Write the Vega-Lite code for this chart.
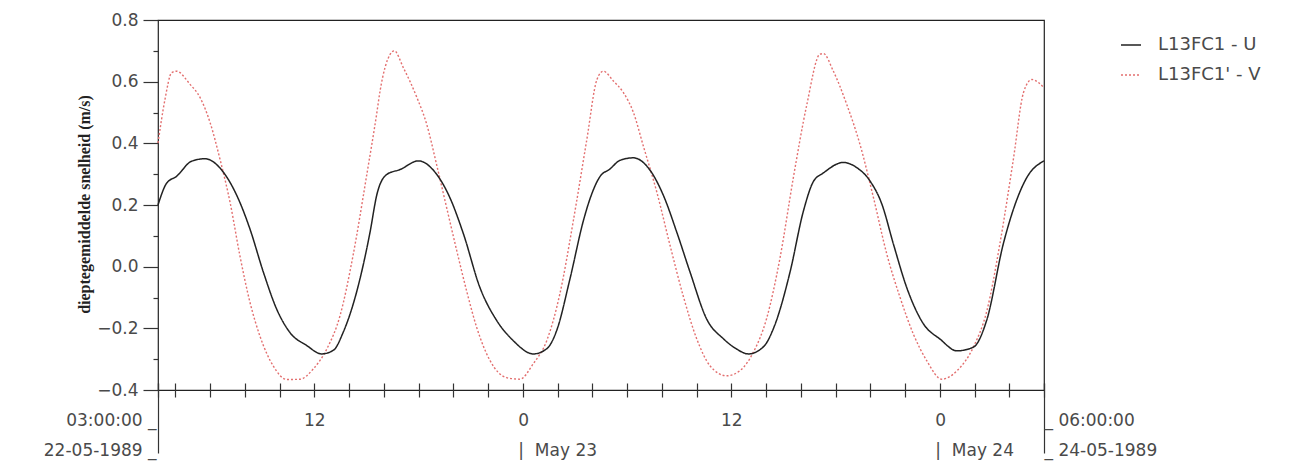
{
  "$schema": "https://vega.github.io/schema/vega-lite/v6.json",
  "width": 886,
  "height": 370,
  "autosize": "none",
  "padding": {"left": 158, "top": 20, "right": 262, "bottom": 84},
  "background": "white",
  "config": {
    "view": {"stroke": "#222", "strokeWidth": 1.2},
    "axis": {"labelFont": "DejaVu Sans", "labelFontSize": 17, "labelColor": "#4a4a4a", "tickColor": "#333", "tickWidth": 1.2, "grid": false, "domain": false}
  },
  "data": {"values": [
    {"time": "1989-05-22T03:00:00Z", "series": "L13FC1 - U", "value": 0.200},
    {"time": "1989-05-22T03:30:00Z", "series": "L13FC1 - U", "value": 0.271},
    {"time": "1989-05-22T04:04:00Z", "series": "L13FC1 - U", "value": 0.293},
    {"time": "1989-05-22T04:56:00Z", "series": "L13FC1 - U", "value": 0.342},
    {"time": "1989-05-22T05:42:00Z", "series": "L13FC1 - U", "value": 0.350},
    {"time": "1989-05-22T06:46:00Z", "series": "L13FC1 - U", "value": 0.306},
    {"time": "1989-05-22T07:43:00Z", "series": "L13FC1 - U", "value": 0.208},
    {"time": "1989-05-22T08:18:00Z", "series": "L13FC1 - U", "value": 0.121},
    {"time": "1989-05-22T09:04:00Z", "series": "L13FC1 - U", "value": -0.018},
    {"time": "1989-05-22T09:50:00Z", "series": "L13FC1 - U", "value": -0.138},
    {"time": "1989-05-22T10:36:00Z", "series": "L13FC1 - U", "value": -0.214},
    {"time": "1989-05-22T11:34:00Z", "series": "L13FC1 - U", "value": -0.256},
    {"time": "1989-05-22T12:25:00Z", "series": "L13FC1 - U", "value": -0.283},
    {"time": "1989-05-22T13:06:00Z", "series": "L13FC1 - U", "value": -0.271},
    {"time": "1989-05-22T13:40:00Z", "series": "L13FC1 - U", "value": -0.212},
    {"time": "1989-05-22T14:26:00Z", "series": "L13FC1 - U", "value": -0.082},
    {"time": "1989-05-22T15:12:00Z", "series": "L13FC1 - U", "value": 0.110},
    {"time": "1989-05-22T15:36:00Z", "series": "L13FC1 - U", "value": 0.234},
    {"time": "1989-05-22T16:10:00Z", "series": "L13FC1 - U", "value": 0.299},
    {"time": "1989-05-22T16:56:00Z", "series": "L13FC1 - U", "value": 0.315},
    {"time": "1989-05-22T17:59:00Z", "series": "L13FC1 - U", "value": 0.343},
    {"time": "1989-05-22T19:02:00Z", "series": "L13FC1 - U", "value": 0.300},
    {"time": "1989-05-22T19:48:00Z", "series": "L13FC1 - U", "value": 0.224},
    {"time": "1989-05-22T20:35:00Z", "series": "L13FC1 - U", "value": 0.106},
    {"time": "1989-05-22T21:32:00Z", "series": "L13FC1 - U", "value": -0.068},
    {"time": "1989-05-22T22:30:00Z", "series": "L13FC1 - U", "value": -0.175},
    {"time": "1989-05-22T23:27:00Z", "series": "L13FC1 - U", "value": -0.240},
    {"time": "1989-05-23T00:36:00Z", "series": "L13FC1 - U", "value": -0.283},
    {"time": "1989-05-23T01:23:00Z", "series": "L13FC1 - U", "value": -0.266},
    {"time": "1989-05-23T01:57:00Z", "series": "L13FC1 - U", "value": -0.207},
    {"time": "1989-05-23T02:42:00Z", "series": "L13FC1 - U", "value": -0.043},
    {"time": "1989-05-23T03:30:00Z", "series": "L13FC1 - U", "value": 0.152},
    {"time": "1989-05-23T03:52:00Z", "series": "L13FC1 - U", "value": 0.220},
    {"time": "1989-05-23T04:27:00Z", "series": "L13FC1 - U", "value": 0.293},
    {"time": "1989-05-23T05:00:00Z", "series": "L13FC1 - U", "value": 0.316},
    {"time": "1989-05-23T05:36:00Z", "series": "L13FC1 - U", "value": 0.345},
    {"time": "1989-05-23T06:22:00Z", "series": "L13FC1 - U", "value": 0.353},
    {"time": "1989-05-23T07:12:00Z", "series": "L13FC1 - U", "value": 0.322},
    {"time": "1989-05-23T08:06:00Z", "series": "L13FC1 - U", "value": 0.230},
    {"time": "1989-05-23T08:52:00Z", "series": "L13FC1 - U", "value": 0.111},
    {"time": "1989-05-23T09:38:00Z", "series": "L13FC1 - U", "value": -0.019},
    {"time": "1989-05-23T10:35:00Z", "series": "L13FC1 - U", "value": -0.170},
    {"time": "1989-05-23T11:33:00Z", "series": "L13FC1 - U", "value": -0.234},
    {"time": "1989-05-23T12:18:00Z", "series": "L13FC1 - U", "value": -0.267},
    {"time": "1989-05-23T12:59:00Z", "series": "L13FC1 - U", "value": -0.283},
    {"time": "1989-05-23T13:51:00Z", "series": "L13FC1 - U", "value": -0.260},
    {"time": "1989-05-23T14:30:00Z", "series": "L13FC1 - U", "value": -0.190},
    {"time": "1989-05-23T15:23:00Z", "series": "L13FC1 - U", "value": -0.017},
    {"time": "1989-05-23T16:09:00Z", "series": "L13FC1 - U", "value": 0.180},
    {"time": "1989-05-23T16:44:00Z", "series": "L13FC1 - U", "value": 0.277},
    {"time": "1989-05-23T17:18:00Z", "series": "L13FC1 - U", "value": 0.304},
    {"time": "1989-05-23T18:27:00Z", "series": "L13FC1 - U", "value": 0.338},
    {"time": "1989-05-23T19:12:00Z", "series": "L13FC1 - U", "value": 0.322},
    {"time": "1989-05-23T19:59:00Z", "series": "L13FC1 - U", "value": 0.278},
    {"time": "1989-05-23T20:40:00Z", "series": "L13FC1 - U", "value": 0.203},
    {"time": "1989-05-23T21:20:00Z", "series": "L13FC1 - U", "value": 0.073},
    {"time": "1989-05-23T22:06:00Z", "series": "L13FC1 - U", "value": -0.068},
    {"time": "1989-05-23T23:04:00Z", "series": "L13FC1 - U", "value": -0.186},
    {"time": "1989-05-24T00:01:00Z", "series": "L13FC1 - U", "value": -0.235},
    {"time": "1989-05-24T00:59:00Z", "series": "L13FC1 - U", "value": -0.273},
    {"time": "1989-05-24T01:56:00Z", "series": "L13FC1 - U", "value": -0.261},
    {"time": "1989-05-24T02:42:00Z", "series": "L13FC1 - U", "value": -0.174},
    {"time": "1989-05-24T03:40:00Z", "series": "L13FC1 - U", "value": 0.076},
    {"time": "1989-05-24T04:26:00Z", "series": "L13FC1 - U", "value": 0.217},
    {"time": "1989-05-24T05:00:00Z", "series": "L13FC1 - U", "value": 0.288},
    {"time": "1989-05-24T06:00:00Z", "series": "L13FC1 - U", "value": 0.343},

    {"time": "1989-05-22T03:00:00Z", "series": "L13FC1' - V", "value": 0.401},
    {"time": "1989-05-22T03:24:00Z", "series": "L13FC1' - V", "value": 0.542},
    {"time": "1989-05-22T03:47:00Z", "series": "L13FC1' - V", "value": 0.629},
    {"time": "1989-05-22T04:04:00Z", "series": "L13FC1' - V", "value": 0.634},
    {"time": "1989-05-22T04:50:00Z", "series": "L13FC1' - V", "value": 0.592},
    {"time": "1989-05-22T05:25:00Z", "series": "L13FC1' - V", "value": 0.549},
    {"time": "1989-05-22T06:00:00Z", "series": "L13FC1' - V", "value": 0.467},
    {"time": "1989-05-22T06:34:00Z", "series": "L13FC1' - V", "value": 0.349},
    {"time": "1989-05-22T07:09:00Z", "series": "L13FC1' - V", "value": 0.208},
    {"time": "1989-05-22T07:43:00Z", "series": "L13FC1' - V", "value": 0.035},
    {"time": "1989-05-22T08:18:00Z", "series": "L13FC1' - V", "value": -0.117},
    {"time": "1989-05-22T08:52:00Z", "series": "L13FC1' - V", "value": -0.225},
    {"time": "1989-05-22T09:38:00Z", "series": "L13FC1' - V", "value": -0.322},
    {"time": "1989-05-22T10:25:00Z", "series": "L13FC1' - V", "value": -0.366},
    {"time": "1989-05-22T11:11:00Z", "series": "L13FC1' - V", "value": -0.365},
    {"time": "1989-05-22T11:56:00Z", "series": "L13FC1' - V", "value": -0.332},
    {"time": "1989-05-22T12:43:00Z", "series": "L13FC1' - V", "value": -0.267},
    {"time": "1989-05-22T13:29:00Z", "series": "L13FC1' - V", "value": -0.158},
    {"time": "1989-05-22T14:14:00Z", "series": "L13FC1' - V", "value": 0.038},
    {"time": "1989-05-22T15:01:00Z", "series": "L13FC1' - V", "value": 0.298},
    {"time": "1989-05-22T15:35:00Z", "series": "L13FC1' - V", "value": 0.494},
    {"time": "1989-05-22T15:47:00Z", "series": "L13FC1' - V", "value": 0.570},
    {"time": "1989-05-22T16:22:00Z", "series": "L13FC1' - V", "value": 0.689},
    {"time": "1989-05-22T16:36:00Z", "series": "L13FC1' - V", "value": 0.700},
    {"time": "1989-05-22T17:07:00Z", "series": "L13FC1' - V", "value": 0.646},
    {"time": "1989-05-22T17:54:00Z", "series": "L13FC1' - V", "value": 0.549},
    {"time": "1989-05-22T18:28:00Z", "series": "L13FC1' - V", "value": 0.462},
    {"time": "1989-05-22T19:02:00Z", "series": "L13FC1' - V", "value": 0.332},
    {"time": "1989-05-22T19:37:00Z", "series": "L13FC1' - V", "value": 0.191},
    {"time": "1989-05-22T20:12:00Z", "series": "L13FC1' - V", "value": 0.051},
    {"time": "1989-05-22T20:46:00Z", "series": "L13FC1' - V", "value": -0.079},
    {"time": "1989-05-22T21:21:00Z", "series": "L13FC1' - V", "value": -0.198},
    {"time": "1989-05-22T22:07:00Z", "series": "L13FC1' - V", "value": -0.305},
    {"time": "1989-05-22T23:04:00Z", "series": "L13FC1' - V", "value": -0.360},
    {"time": "1989-05-22T23:50:00Z", "series": "L13FC1' - V", "value": -0.365},
    {"time": "1989-05-23T00:36:00Z", "series": "L13FC1' - V", "value": -0.315},
    {"time": "1989-05-23T01:23:00Z", "series": "L13FC1' - V", "value": -0.239},
    {"time": "1989-05-23T02:08:00Z", "series": "L13FC1' - V", "value": -0.088},
    {"time": "1989-05-23T02:55:00Z", "series": "L13FC1' - V", "value": 0.152},
    {"time": "1989-05-23T03:41:00Z", "series": "L13FC1' - V", "value": 0.412},
    {"time": "1989-05-23T04:16:00Z", "series": "L13FC1' - V", "value": 0.607},
    {"time": "1989-05-23T04:38:00Z", "series": "L13FC1' - V", "value": 0.634},
    {"time": "1989-05-23T05:12:00Z", "series": "L13FC1' - V", "value": 0.603},
    {"time": "1989-05-23T05:47:00Z", "series": "L13FC1' - V", "value": 0.565},
    {"time": "1989-05-23T06:22:00Z", "series": "L13FC1' - V", "value": 0.500},
    {"time": "1989-05-23T06:56:00Z", "series": "L13FC1' - V", "value": 0.392},
    {"time": "1989-05-23T07:43:00Z", "series": "L13FC1' - V", "value": 0.241},
    {"time": "1989-05-23T08:29:00Z", "series": "L13FC1' - V", "value": 0.067},
    {"time": "1989-05-23T09:14:00Z", "series": "L13FC1' - V", "value": -0.095},
    {"time": "1989-05-23T10:01:00Z", "series": "L13FC1' - V", "value": -0.235},
    {"time": "1989-05-23T10:47:00Z", "series": "L13FC1' - V", "value": -0.322},
    {"time": "1989-05-23T11:44:00Z", "series": "L13FC1' - V", "value": -0.354},
    {"time": "1989-05-23T12:30:00Z", "series": "L13FC1' - V", "value": -0.337},
    {"time": "1989-05-23T13:16:00Z", "series": "L13FC1' - V", "value": -0.278},
    {"time": "1989-05-23T14:02:00Z", "series": "L13FC1' - V", "value": -0.168},
    {"time": "1989-05-23T14:48:00Z", "series": "L13FC1' - V", "value": 0.027},
    {"time": "1989-05-23T15:34:00Z", "series": "L13FC1' - V", "value": 0.287},
    {"time": "1989-05-23T16:21:00Z", "series": "L13FC1' - V", "value": 0.526},
    {"time": "1989-05-23T17:06:00Z", "series": "L13FC1' - V", "value": 0.689},
    {"time": "1989-05-23T17:18:00Z", "series": "L13FC1' - V", "value": 0.691},
    {"time": "1989-05-23T17:52:00Z", "series": "L13FC1' - V", "value": 0.635},
    {"time": "1989-05-23T18:38:00Z", "series": "L13FC1' - V", "value": 0.528},
    {"time": "1989-05-23T19:24:00Z", "series": "L13FC1' - V", "value": 0.398},
    {"time": "1989-05-23T20:11:00Z", "series": "L13FC1' - V", "value": 0.224},
    {"time": "1989-05-23T20:57:00Z", "series": "L13FC1' - V", "value": 0.041},
    {"time": "1989-05-23T21:43:00Z", "series": "L13FC1' - V", "value": -0.100},
    {"time": "1989-05-23T22:29:00Z", "series": "L13FC1' - V", "value": -0.219},
    {"time": "1989-05-23T23:15:00Z", "series": "L13FC1' - V", "value": -0.305},
    {"time": "1989-05-24T00:07:00Z", "series": "L13FC1' - V", "value": -0.365},
    {"time": "1989-05-24T00:59:00Z", "series": "L13FC1' - V", "value": -0.338},
    {"time": "1989-05-24T01:56:00Z", "series": "L13FC1' - V", "value": -0.261},
    {"time": "1989-05-24T02:43:00Z", "series": "L13FC1' - V", "value": -0.142},
    {"time": "1989-05-24T03:28:00Z", "series": "L13FC1' - V", "value": 0.076},
    {"time": "1989-05-24T04:14:00Z", "series": "L13FC1' - V", "value": 0.347},
    {"time": "1989-05-24T04:49:00Z", "series": "L13FC1' - V", "value": 0.564},
    {"time": "1989-05-24T05:18:00Z", "series": "L13FC1' - V", "value": 0.607},
    {"time": "1989-05-24T06:00:00Z", "series": "L13FC1' - V", "value": 0.580}
  ]},
  "encoding": {
    "color": {
      "field": "series", "type": "nominal",
      "scale": {"domain": ["L13FC1 - U", "L13FC1' - V"], "range": ["#222222", "#e36f6f"]},
      "legend": {"orient": "none", "legendX": 962, "legendY": 14, "title": null, "labelFont": "DejaVu Sans", "labelFontSize": 18, "labelColor": "#4a4a4a", "symbolType": "stroke", "symbolSize": 400, "symbolStrokeWidth": 1.5, "rowPadding": 10, "labelOffset": 16}
    },
    "strokeDash": {
      "field": "series", "type": "nominal",
      "scale": {"domain": ["L13FC1 - U", "L13FC1' - V"], "range": [[1, 0], [2, 2]]},
      "legend": {"orient": "none", "legendX": 962, "legendY": 14, "title": null, "labelFont": "DejaVu Sans", "labelFontSize": 18, "labelColor": "#4a4a4a", "symbolType": "stroke", "symbolSize": 400, "symbolStrokeWidth": 1.5, "rowPadding": 10, "labelOffset": 16}
    }
  },
  "layer": [
    {
      "transform": [{"filter": {"field": "series", "equal": "L13FC1' - V"}}],
      "mark": {"type": "line", "interpolate": "monotone", "strokeWidth": 1.4},
      "encoding": {
        "x": {
          "field": "time", "type": "temporal",
          "scale": {"type": "utc", "nice": false, "domain": [{"year": 1989, "month": 5, "date": 22, "hours": 3, "utc": true}, {"year": 1989, "month": 5, "date": 24, "hours": 6, "utc": true}]},
          "axis": {"orient": "bottom", "values": [611809200000, 611992800000], "tickSize": 70, "offset": -7, "labels": false, "domain": false, "title": null}
        },
        "y": {
          "field": "value", "type": "quantitative",
          "scale": {"domain": [-0.4, 0.8], "nice": false, "zero": false},
          "axis": {"orient": "left", "values": [-0.3, -0.1, 0.1, 0.3, 0.5, 0.7], "tickSize": 5, "labels": false, "domain": false, "title": null}
        }
      }
    },
    {
      "transform": [{"filter": {"field": "series", "equal": "L13FC1 - U"}}],
      "mark": {"type": "line", "interpolate": "monotone", "strokeWidth": 1.5},
      "encoding": {
        "x": {
          "field": "time", "type": "temporal",
          "scale": {"type": "utc", "nice": false, "domain": [{"year": 1989, "month": 5, "date": 22, "hours": 3, "utc": true}, {"year": 1989, "month": 5, "date": 24, "hours": 6, "utc": true}]},
          "axis": {
            "orient": "bottom",
            "values": [611809200000, 611812800000, 611820000000, 611827200000, 611834400000, 611841600000, 611848800000, 611856000000, 611863200000, 611870400000, 611877600000, 611884800000, 611892000000, 611899200000, 611906400000, 611913600000, 611920800000, 611928000000, 611935200000, 611942400000, 611949600000, 611956800000, 611964000000, 611971200000, 611978400000, 611985600000, 611992800000],
            "tickSize": 14, "offset": -7, "domain": false, "title": null,
            "labelPadding": 15, "labelLineHeight": 30, "labelFlush": false, "labelOverlap": false, "labelBound": false,
            "labelExpr": "utchours(datum.value) == 3 ? ['03:00:00 _', '22-05-1989 _'] : (utcdate(datum.value) == 24 && utchours(datum.value) == 6) ? ['_ 06:00:00', '_ 24-05-1989'] : utchours(datum.value) == 12 ? '12' : utchours(datum.value) == 0 ? ['0', '|\u00a0\u00a0May ' + utcdate(datum.value)] : ''",
            "labelAlign": {"condition": [
              {"test": "utchours(datum.value) == 3", "value": "right"},
              {"test": "utcdate(datum.value) == 24 && utchours(datum.value) == 6", "value": "left"},
              {"test": "utchours(datum.value) == 0", "value": "left"}
            ], "value": "center"},
            "labelOffset": {"condition": [
              {"test": "utchours(datum.value) == 3", "value": -2},
              {"test": "utcdate(datum.value) == 24 && utchours(datum.value) == 6", "value": 0},
              {"test": "utchours(datum.value) == 0", "value": -5}
            ], "value": 0}
          }
        },
        "y": {
          "field": "value", "type": "quantitative",
          "scale": {"domain": [-0.4, 0.8], "nice": false, "zero": false},
          "axis": {
            "orient": "left", "values": [-0.4, -0.2, 0, 0.2, 0.4, 0.6, 0.8], "format": ".1f",
            "tickSize": 15, "labelPadding": 5, "domain": false,
            "title": "dieptegemiddelde snelheid (m/s)", "titleFont": "Liberation Serif", "titleFontSize": 16, "titleFontWeight": "bold", "titleColor": "#222",
            "titleX": -74, "titleY": 184, "titleAngle": -90, "titleAlign": "center", "titleBaseline": "middle"
          }
        }
      }
    }
  ],
  "resolve": {"scale": {"x": "shared", "y": "shared"}, "axis": {"x": "independent", "y": "independent"}}
}
